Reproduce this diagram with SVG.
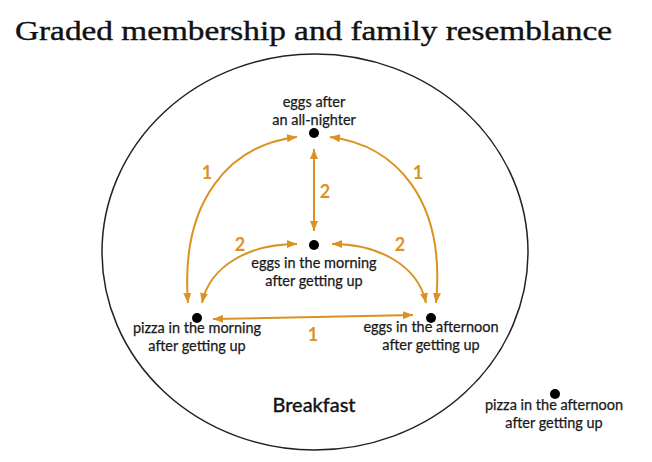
<svg xmlns="http://www.w3.org/2000/svg" width="652" height="462" viewBox="0 0 652 462">
<defs>
<marker id="ah" viewBox="0 0 10 8" refX="10" refY="4" markerWidth="10" markerHeight="8" markerUnits="userSpaceOnUse" orient="auto-start-reverse">
<path d="M0,0 L10,4 L0,8 Z" fill="#DA9322"/>
</marker>
</defs>
<style>
.lbl{font-family:Lato,"Open Sans","DejaVu Sans",sans-serif;font-size:14.5px;fill:#1a1a1a;stroke:#1a1a1a;stroke-width:0.25;text-anchor:middle}
.num{font-family:Lato,"Open Sans","DejaVu Sans",sans-serif;font-size:18px;font-weight:bold;fill:#DA9322;text-anchor:middle}
.edge{fill:none;stroke:#DA9322;stroke-width:2;marker-start:url(#ah);marker-end:url(#ah)}
.dot{fill:#000}
</style>
<rect width="652" height="462" fill="#fff"/>
<text x="15" y="40" font-family="'Liberation Serif','Times New Roman',serif" font-size="28" fill="#111" stroke="#111" stroke-width="0.4" textLength="597" lengthAdjust="spacingAndGlyphs">Graded membership and family resemblance</text>
<g id="breakfast">
<ellipse cx="315" cy="252" rx="213" ry="198" fill="none" stroke="#222" stroke-width="1.5"/>
<text x="314" y="412" font-family="Lato,'Open Sans',sans-serif" font-size="20" fill="#111" stroke="#111" stroke-width="0.4" text-anchor="middle">Breakfast</text>
</g>
<g id="connectors">
<path class="edge" d="M314,149 L314,231"/>
<path class="edge" d="M297,137 C230,145 180,200 188,303"/>
<path class="edge" d="M330,137 C396,145 446,200 436,303"/>
<path class="edge" d="M297,244 C250,244 210,265 202,303"/>
<path class="edge" d="M332,244 C378,244 418,265 426,303"/>
<path class="edge" d="M213,319 L413,315"/>
<text class="num" x="325" y="198">2</text>
<text class="num" x="207" y="179">1</text>
<text class="num" x="418" y="179">1</text>
<text class="num" x="240" y="251">2</text>
<text class="num" x="400" y="251">2</text>
<text class="num" x="313" y="341">1</text>
</g>
<g id="n-allnighter">
<circle class="dot" cx="314" cy="133" r="5"/>
<text class="lbl" x="314" y="107">eggs after</text>
<text class="lbl" x="314" y="125">an all-nighter</text>
</g>
<g id="n-eggs-morning">
<circle class="dot" cx="314" cy="245" r="5"/>
<text class="lbl" x="314" y="268">eggs in the morning</text>
<text class="lbl" x="314" y="286">after getting up</text>
</g>
<g id="n-pizza-morning">
<circle class="dot" cx="197" cy="318" r="5"/>
<text class="lbl" x="197" y="333">pizza in the morning</text>
<text class="lbl" x="197" y="351">after getting up</text>
</g>
<g id="n-eggs-afternoon">
<circle class="dot" cx="431" cy="318" r="5"/>
<text class="lbl" x="431" y="332">eggs in the afternoon</text>
<text class="lbl" x="431" y="350">after getting up</text>
</g>
<g id="n-pizza-afternoon">
<circle class="dot" cx="555" cy="394" r="5"/>
<text class="lbl" x="554" y="410">pizza in the afternoon</text>
<text class="lbl" x="554" y="428">after getting up</text>
</g>
</svg>
